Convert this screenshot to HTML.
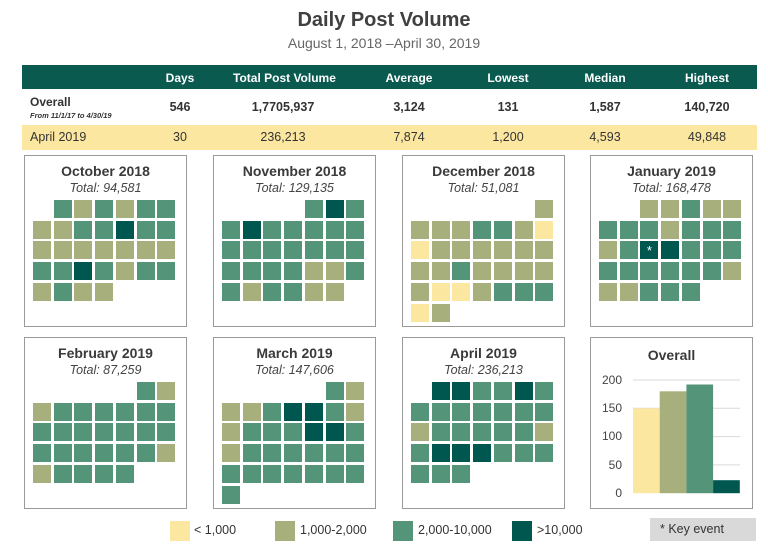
<!DOCTYPE html>
<html><head><meta charset="utf-8"><style>
*{margin:0;padding:0;box-sizing:border-box}
body{width:768px;height:548px;background:#fff;font-family:"Liberation Sans",sans-serif;position:relative;overflow:hidden;color:#333}
.a{position:absolute}
.t{white-space:nowrap}
.panel{position:absolute;border:1.5px solid #9a9a9a;background:#fff}
.c{position:absolute;width:20px;height:20px;border:1px solid #fff}
.ttl{position:absolute;left:0;right:0;text-align:center;font-weight:bold;font-size:14px;color:#3a3a3a}
.sub{position:absolute;left:0;right:0;text-align:center;font-style:italic;font-size:12.5px;color:#444}
.hd{color:#fff;font-weight:bold;font-size:12px;text-align:center;width:100px;top:71px}
.r1{font-weight:bold;font-size:12.5px;text-align:center;width:100px;top:100px}
.r2{font-size:12.5px;text-align:center;width:100px;top:130px}
</style></head><body>
<div class="a t" style="left:0;width:768px;text-align:center;top:9px;font-size:20px;font-weight:bold;color:#404040">Daily Post Volume</div>
<div class="a t" style="left:0;width:768px;text-align:center;top:35px;font-size:14px;color:#666">August 1, 2018 –April 30, 2019</div>
<div class="a" style="left:22px;top:65px;width:735px;height:24px;background:#0b5a50"></div>
<div class="a" style="left:22px;top:125px;width:735px;height:25px;background:#fce7a1"></div>
<div class="a t hd" style="left:130px">Days</div>
<div class="a t hd" style="left:233px">Total Post Volume</div>
<div class="a t hd" style="left:359px">Average</div>
<div class="a t hd" style="left:458px">Lowest</div>
<div class="a t hd" style="left:555px">Median</div>
<div class="a t hd" style="left:657px">Highest</div>
<div class="a t" style="left:30px;top:95px;font-weight:bold;font-size:12px">Overall</div>
<div class="a t" style="left:30px;top:111px;font-weight:bold;font-size:7.5px;font-style:italic">From 11/1/17 to 4/30/19</div>
<div class="a t r1" style="left:130px">546</div>
<div class="a t r1" style="left:233px">1,7705,937</div>
<div class="a t r1" style="left:359px">3,124</div>
<div class="a t r1" style="left:458px">131</div>
<div class="a t r1" style="left:555px">1,587</div>
<div class="a t r1" style="left:657px">140,720</div>
<div class="a t" style="left:30px;top:130px;font-size:12.5px">April 2019</div>
<div class="a t r2" style="left:130px">30</div>
<div class="a t r2" style="left:233px">236,213</div>
<div class="a t r2" style="left:359px">7,874</div>
<div class="a t r2" style="left:458px">1,200</div>
<div class="a t r2" style="left:555px">4,593</div>
<div class="a t r2" style="left:657px">49,848</div>
<div id="cal"></div>
<div class="panel" style="left:590px;top:337px;width:163px;height:172px">
<div class="ttl" style="top:9px">Overall</div>
</div>
<svg class="a" style="left:590px;top:337px" width="163" height="172">
<g stroke="#d9d9d9" stroke-width="1">
<line x1="43" x2="150" y1="43" y2="43"/><line x1="43" x2="150" y1="71.3" y2="71.3"/><line x1="43" x2="150" y1="99.6" y2="99.6"/><line x1="43" x2="150" y1="127.9" y2="127.9"/></g>
<rect x="43" y="71.3" width="26.7" height="84.9" fill="#fce7a1"/>
<rect x="69.7" y="54.3" width="26.7" height="101.9" fill="#a7b07c"/>
<rect x="96.4" y="47.5" width="26.7" height="108.7" fill="#54957a"/>
<rect x="123.1" y="143.2" width="26.7" height="13" fill="#005750"/>
<g font-family="Liberation Sans,sans-serif" font-size="12" fill="#444" text-anchor="end">
<text x="32" y="47">200</text><text x="32" y="75">150</text><text x="32" y="103">100</text><text x="32" y="132">50</text><text x="32" y="160">0</text></g>
</svg>
<div class="a" style="left:170px;top:521px;width:20px;height:20px;background:#fce7a1"></div>
<div class="a t" style="left:194px;top:523px;font-size:12.5px">&lt; 1,000</div>
<div class="a" style="left:275px;top:521px;width:20px;height:20px;background:#a7b07c"></div>
<div class="a t" style="left:300px;top:523px;font-size:12.5px">1,000-2,000</div>
<div class="a" style="left:393px;top:521px;width:20px;height:20px;background:#54957a"></div>
<div class="a t" style="left:418px;top:523px;font-size:12.5px">2,000-10,000</div>
<div class="a" style="left:512px;top:521px;width:20px;height:20px;background:#005750"></div>
<div class="a t" style="left:537px;top:523px;font-size:12.5px">&gt;10,000</div>
<div class="a t" style="left:650px;top:518px;width:106px;height:23px;background:#d9d9d9;font-size:12.5px;padding:4px 0 0 10px">* Key event</div>
<script>
var col={Y:"#fce7a1",O:"#a7b07c",G:"#54957a",D:"#005750",S:"#005750"};
var P=[
[24,155,"October 2018","94,581",["_GOGOGG","OOGGDGG","OOOOOOO","GGDGOGG","OGOO"]],
[213,155,"November 2018","129,135",["____GDG","GDGGGGG","GGGGGGG","GGGGOOG","GOGGOO"]],
[402,155,"December 2018","51,081",["______O","OOOGGOY","YOOOOOO","OOGOOOO","OYYOGGG","YO"]],
[590,155,"January 2019","168,478",["__OOGOO","GGGOGGG","OGSDGGG","GGGGGGO","OOGGG"]],
[24,337,"February 2019","87,259",["_____GO","OGGGGGG","GGGGGGG","GGGGGGO","OGGGG"]],
[213,337,"March 2019","147,606",["_____GO","OOGDDGO","OGGGDDG","OGGGGGG","GGGGGGG","G"]],
[402,337,"April 2019","236,213",["_DDGGDG","GGGGGGG","OGGGGGO","GDDDGGG","GGG"]]];
var h="";
P.forEach(function(p){
h+='<div class="panel" style="left:'+p[0]+'px;top:'+p[1]+'px;width:163px;height:172px"><div class="ttl" style="top:7px">'+p[2]+'</div><div class="sub" style="top:25px">Total: '+p[3]+'</div></div>';
p[4].forEach(function(r,i){for(var j=0;j<r.length;j++){var k=r[j];if(k=="_")continue;
h+='<div class="c" style="left:'+(p[0]+8+j*20.7)+'px;top:'+(p[1]+44+i*20.7)+'px;background:'+col[k]+';color:#fff;font-size:13px;text-align:center;line-height:20px">'+(k=="S"?"*":"")+'</div>';}});
});
document.getElementById("cal").innerHTML=h;
</script>
</body></html>
